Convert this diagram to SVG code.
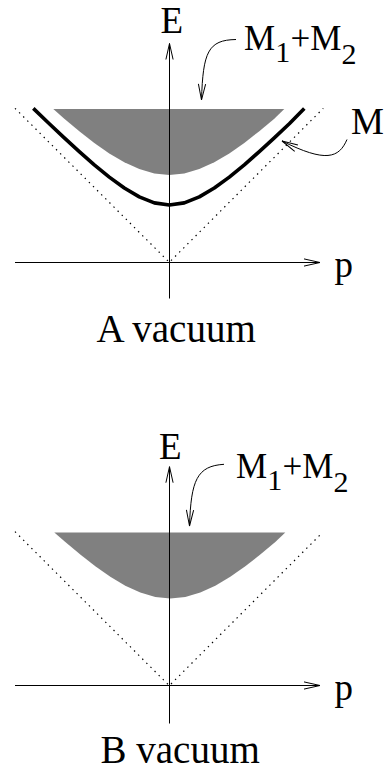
<svg xmlns="http://www.w3.org/2000/svg" width="391" height="772" viewBox="0 0 391 772">
<style>
  .t { font-family: 'Liberation Serif', 'Times New Roman', serif; font-size: 37px; fill: #000; }
  .big { font-size: 39px; }
  .mm { font-size: 35px; }
  .sub { font-size: 30px; }
  .axis { fill: none; stroke: #000; stroke-width: 1; }
  .lead { fill: none; stroke: #000; stroke-width: 1; }
  .dot { fill: none; stroke: #000; stroke-width: 1.2; stroke-dasharray: 1.4 4.4; }
  .band { fill: #808080; stroke: none; }
  .curve { fill: none; stroke: #000; stroke-width: 3.6; stroke-linejoin: round; stroke-linecap: butt; }
</style>
<defs>
  <marker id="ah" markerUnits="userSpaceOnUse" markerWidth="20" markerHeight="10" viewBox="-18 -5 20 10" refX="0" refY="0" orient="auto" overflow="visible">
    <path d="M-16,-3.6 L0,0 L-16,3.6" fill="none" stroke="#000" stroke-width="1"/>
  </marker>
  <polygon id="bandShape" points="53.3,109 64.3,118.7 79.3,131.2 94.3,142.9 109.3,153.4 124.3,162.3 139.3,169.1 154.3,173.5 169.3,175 184.3,173.5 199.3,169.1 214.3,162.3 229.3,153.4 244.3,142.9 259.3,131.2 274.3,118.7 284.3,109"/>
</defs>

<!-- Panel A -->
<g id="panelA">
  <g id="A-band"><use href="#bandShape" class="band"/></g>
  <g id="A-light-cone">
    <path class="dot" d="M15,108.3 L169.3,262.3 L323.3,108.3"/>
  </g>
  <g id="A-curve-M">
    <polyline class="curve" points="33.3,108.4 49.3,123.7 64.3,137.9 79.3,151.6 94.3,164.8 109.3,177.1 124.3,188 139.3,196.9 154.3,202.9 169.3,205 184.3,202.9 199.3,196.9 214.3,188 229.3,177.1 244.3,164.8 259.3,151.6 274.3,137.9 289.3,123.7 304.3,108.4"/>
  </g>
  <g id="A-axes">
    <line class="axis" x1="169.5" y1="298.5" x2="169.5" y2="43.5" marker-end="url(#ah)"/>
    <line class="axis" x1="15" y1="262.5" x2="320" y2="262.5" marker-end="url(#ah)"/>
  </g>
  <g id="A-labels" font-family="'Liberation Serif', 'Times New Roman', serif">
    <text class="t" x="160.5" y="32.5" font-size="36">E</text>
    <text class="t" x="334.5" y="276.5">p</text>
    <text class="t" x="351" y="134">M</text>
    <text class="t mm"><tspan x="244" y="50">M</tspan><tspan class="sub" x="275.3" y="62">1</tspan><tspan x="290.4" y="50">+</tspan><tspan x="310.2" y="50">M</tspan><tspan class="sub" x="341.4" y="64">2</tspan></text>
    <text class="t big" x="96.5" y="341.7">A vacuum</text>
  </g>
</g>

<!-- Panel B -->
<g id="panelB">
  <g id="B-band"><use href="#bandShape" class="band" transform="translate(1,423.4)"/></g>
  <g id="B-light-cone">
    <path class="dot" d="M15,531.7 L169.3,685.7 L322.3,532.7"/>
  </g>
  <g id="B-axes">
    <line class="axis" x1="169.5" y1="723.5" x2="169.5" y2="466.7" marker-end="url(#ah)"/>
    <line class="axis" x1="15" y1="685.5" x2="320" y2="685.5" marker-end="url(#ah)"/>
  </g>
  <g id="B-labels" font-family="'Liberation Serif', 'Times New Roman', serif">
    <text class="t" x="159" y="459">E</text>
    <text class="t" x="334.5" y="699.5">p</text>
    <text class="t mm"><tspan x="236" y="478">M</tspan><tspan class="sub" x="267.3" y="490">1</tspan><tspan x="282.4" y="478">+</tspan><tspan x="302.2" y="478">M</tspan><tspan class="sub" x="333.4" y="492">2</tspan></text>
    <text class="t big" x="100.5" y="763">B vacuum</text>
  </g>
</g>

<!-- Connectors (leader arrows) -->
<g id="connectors">
  <path class="lead" d="M236,39.5 C208,40 203,52 201.5,100" marker-end="url(#ah)"/>
  <path class="lead" d="M347,139.5 C339,158 326,163 282,141" marker-end="url(#ah)"/>
  <path class="lead" d="M224,464.3 C197,466 191,480 189.5,526" marker-end="url(#ah)"/>
</g>
</svg>
